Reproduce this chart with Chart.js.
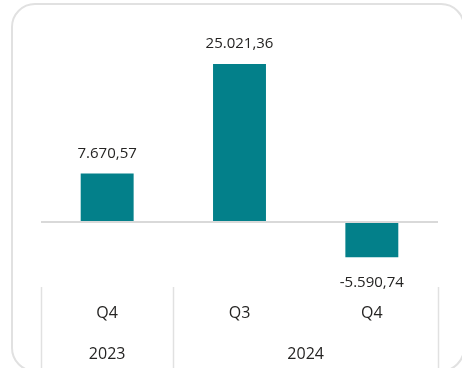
<!DOCTYPE html>
<html>
<head>
<meta charset="utf-8">
<script src="https://cdn.jsdelivr.net/npm/chart.js@4/dist/chart.umd.min.js"></script>
<style>
  html, body { margin: 0; padding: 0; background: #fff; overflow: hidden; }
  #wrap { position: relative; width: 462px; height: 368px; }
  #box { position: absolute; left: 11px; top: 3px; width: 454px; height: 369px; box-sizing: border-box;
         border: 2px solid #e1e1e1; border-radius: 24px; }
  canvas { position: absolute; left: 0; top: 0; }
</style>
</head>
<body>
<div id="wrap">
  <div id="box"></div>
  <canvas id="c" width="462" height="368"></canvas>
</div>
<script>
const quarters = ['Q4', 'Q3', 'Q4'];
const years = ['2023', '2024', '2024'];
const values = [7670.57, 25021.36, -5590.74];

const fmt = v => v.toLocaleString('de-DE', { minimumFractionDigits: 2, maximumFractionDigits: 2 });
const FONT = '"Open Sans", "Noto Sans", sans-serif';
const TEXT = '#252423';

const overlay = {
  id: 'overlay',
  afterDatasetsDraw(chart) {
    const ctx = chart.ctx;
    const meta = chart.getDatasetMeta(0);
    ctx.save();
    ctx.fillStyle = TEXT;
    ctx.font = '15px ' + FONT;
    ctx.textAlign = 'center';
    ctx.textBaseline = 'middle';
    meta.data.forEach((bar, i) => {
      const v = values[i];
      const y = v >= 0 ? bar.y - 20 : bar.y + 25;
      ctx.fillText(fmt(v), bar.x, y);
    });
    ctx.restore();
  },
  afterDraw(chart) {
    const ctx = chart.ctx;
    const xs = chart.scales.x;
    const n = quarters.length;
    const w = (xs.right - xs.left) / n;
    const top = chart.chartArea.bottom;
    const bottom = chart.height;
    const groups = [];
    years.forEach((y, i) => {
      const g = groups[groups.length - 1];
      if (g && g.label === y) g.end = i; else groups.push({ label: y, start: i, end: i });
    });
    ctx.save();
    ctx.strokeStyle = '#e1e1e1';
    ctx.lineWidth = 1.5;
    const bounds = new Set();
    groups.forEach(g => { bounds.add(g.start); bounds.add(g.end + 1); });
    bounds.forEach(b => {
      const x = Math.round(xs.left + b * w) + 0.5;
      ctx.beginPath(); ctx.moveTo(x, top); ctx.lineTo(x, bottom); ctx.stroke();
    });
    ctx.fillStyle = TEXT;
    ctx.font = '16px ' + FONT;
    ctx.textAlign = 'center';
    ctx.textBaseline = 'middle';
    groups.forEach(g => {
      const cx = (xs.getPixelForValue(g.start) + xs.getPixelForValue(g.end)) / 2;
      ctx.fillText(g.label, cx, 354);
    });
    ctx.restore();
  }
};

new Chart(document.getElementById('c'), {
  type: 'bar',
  data: {
    labels: quarters,
    datasets: [{
      data: values,
      backgroundColor: '#03808A',
      borderWidth: 0,
      categoryPercentage: 1,
      barPercentage: 0.4
    }]
  },
  options: {
    responsive: false,
    animation: false,
    devicePixelRatio: 1,
    layout: { padding: { top: 20, left: 41, right: 24, bottom: 0 } },
    plugins: { legend: { display: false }, tooltip: { enabled: false } },
    scales: {
      x: {
        grid: { display: false },
        border: { display: false },
        ticks: { color: TEXT, font: { size: 16, family: FONT }, padding: 9 },
        afterFit(scale) { scale.height = 81; }
      },
      y: {
        min: -10290,
        max: 31990,
        afterBuildTicks(scale) { scale.ticks = [{ value: 0 }]; },
        ticks: { display: false },
        border: { display: false },
        grid: { color: '#d9d9d9', lineWidth: 2, drawTicks: false },
        afterFit(scale) { scale.width = 0; }
      }
    }
  },
  plugins: [overlay]
});
</script>
</body>
</html>
